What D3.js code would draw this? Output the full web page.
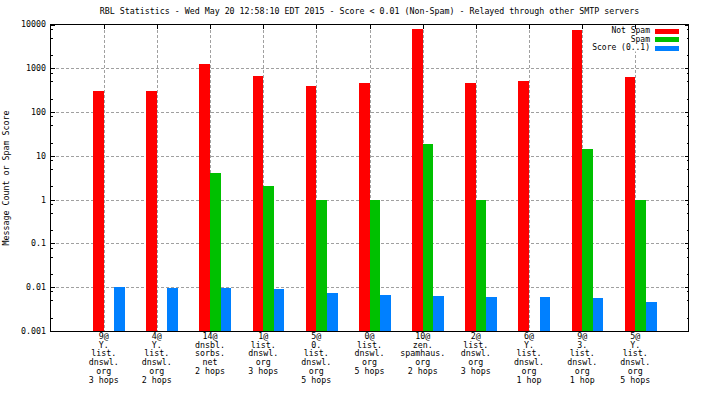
<!DOCTYPE html>
<html><head><meta charset="utf-8">
<script src="https://cdn.jsdelivr.net/npm/d3@7"></script>
<style>
html,body{margin:0;padding:0;background:#fff;}
svg text{font-family:"DejaVu Sans Mono","Liberation Mono",monospace;font-size:8.3px;fill:#000;}
</style></head>
<body>
<svg id="c" width="704" height="396"></svg>
<script>
const titleText = "RBL Statistics - Wed May 20 12:58:10 EDT 2015 - Score < 0.01 (Non-Spam) - Relayed through other SMTP servers";
const yLabel = "Message Count or Spam Score";
const categories = [
  "9@\nY.\nlist.\ndnswl.\norg\n3 hops",
  "4@\nY.\nlist.\ndnswl.\norg\n2 hops",
  "14@\ndnsbl.\nsorbs.\nnet\n2 hops",
  "1@\nlist.\ndnswl.\norg\n3 hops",
  "5@\n0.\nlist.\ndnswl.\norg\n5 hops",
  "0@\nlist.\ndnswl.\norg\n5 hops",
  "10@\nzen.\nspamhaus.\norg\n2 hops",
  "2@\nlist.\ndnswl.\norg\n3 hops",
  "6@\nY.\nlist.\ndnswl.\norg\n1 hop",
  "9@\n3.\nlist.\ndnswl.\norg\n1 hop",
  "5@\nY.\nlist.\ndnswl.\norg\n5 hops"
];
const seriesNames = ["Not Spam", "Spam", "Score (0..1)"];
const seriesColors = ["#ff0000", "#00c000", "#0080ff"];
const notSpam = [300, 295, 1250, 650, 390, 455, 8100, 470, 500, 7300, 620];
const spam = [0, 0, 4, 2, 1, 1, 18.5, 1, 0, 14, 1];
const score = [0.0102, 0.0097, 0.0097, 0.0092, 0.0075, 0.0068, 0.0064, 0.0061, 0.0061, 0.0058, 0.0047];
const yTickValues = [0.001, 0.01, 0.1, 1, 10, 100, 1000, 10000];
const yTickLabels = ["0.001", "0.01", "0.1", "1", "10", "100", "1000", "10000"];

const svg = d3.select("#c");
const L = 50.5, R = 688.5, T = 24.5, B = 331;
const x = d3.scaleLinear().domain([-1, categories.length]).range([L, R]);
const y = d3.scaleLog().domain([0.001, 10000]).range([B, T]);

const minor = [];
for (let e = -3; e < 4; e++) [2, 5, 8].forEach(m => minor.push(m * Math.pow(10, e)));

const grid = svg.append("g").attr("stroke", "#a0a0a0").attr("stroke-dasharray", "3,2").attr("shape-rendering", "crispEdges");
yTickValues.slice(1, -1).forEach(v => {
  grid.append("line").attr("x1", L).attr("x2", R).attr("y1", Math.round(y(v)) + 0.5).attr("y2", Math.round(y(v)) + 0.5);
});
categories.forEach((c, i) => {
  grid.append("line").attr("x1", Math.round(x(i)) + 0.5).attr("x2", Math.round(x(i)) + 0.5).attr("y1", T).attr("y2", B);
});

const legX = 650, legY = 30.5, legStep = 8.5;
svg.append("rect").attr("x", 588).attr("y", T + 1).attr("width", 96).attr("height", 26).attr("fill", "#fff");

const series = [notSpam, spam, score];
const offsets = [-0.2, 0, 0.2];
const bw = 0.2;
series.forEach((vals, s) => {
  svg.append("g").attr("fill", seriesColors[s]).attr("shape-rendering", "crispEdges")
    .selectAll("rect").data(vals.map((v, i) => ({v, i})).filter(d => d.v > 0.001))
    .join("rect")
    .attr("x", d => Math.round(x(d.i + offsets[s])))
    .attr("width", d => Math.round(x(d.i + offsets[s] + bw)) - Math.round(x(d.i + offsets[s])))
    .attr("y", d => Math.round(y(d.v)))
    .attr("height", d => B - Math.round(y(d.v)));
});

const ax = svg.append("g").attr("stroke", "#000").attr("shape-rendering", "crispEdges");
ax.append("rect").attr("x", L).attr("y", T).attr("width", R - L).attr("height", B - T).attr("fill", "none");
yTickValues.forEach(v => {
  const yy = Math.round(y(v)) + 0.5;
  ax.append("line").attr("x1", L).attr("x2", L + 4).attr("y1", yy).attr("y2", yy);
  ax.append("line").attr("x1", R - 4).attr("x2", R).attr("y1", yy).attr("y2", yy);
});
minor.forEach(v => {
  const yy = Math.round(y(v)) + 0.5;
  ax.append("line").attr("x1", L).attr("x2", L + 2).attr("y1", yy).attr("y2", yy);
  ax.append("line").attr("x1", R - 2).attr("x2", R).attr("y1", yy).attr("y2", yy);
});
categories.forEach((c, i) => {
  const xx = Math.round(x(i)) + 0.5;
  ax.append("line").attr("x1", xx).attr("x2", xx).attr("y1", T).attr("y2", T + 4);
});

svg.append("g").selectAll("text").data(yTickValues).join("text")
  .attr("x", 46).attr("y", d => y(d)).attr("dy", "0.35em").attr("text-anchor", "end")
  .text((d, i) => yTickLabels[i]);

categories.forEach((c, i) => {
  const t = svg.append("text").attr("text-anchor", "middle");
  c.split("\n").forEach((line, k) => {
    t.append("tspan").attr("x", x(i)).attr("y", 339 + k * 8.7).text(line);
  });
});

svg.append("text").attr("x", (L + R) / 2).attr("y", 14).attr("text-anchor", "middle").text(titleText);
svg.append("text").attr("transform", "translate(9,178) rotate(-90)").attr("text-anchor", "middle").text(yLabel);

seriesNames.forEach((n, s) => {
  const yy = legY + s * legStep;
  svg.append("text").attr("x", legX).attr("y", yy + 2.8).attr("text-anchor", "end")
    .style("font-size", "8px").text(n);
  svg.append("rect").attr("x", 655).attr("y", Math.round(yy) - 2).attr("width", 24).attr("height", 5).attr("fill", seriesColors[s]);
});
</script>
</body></html>
